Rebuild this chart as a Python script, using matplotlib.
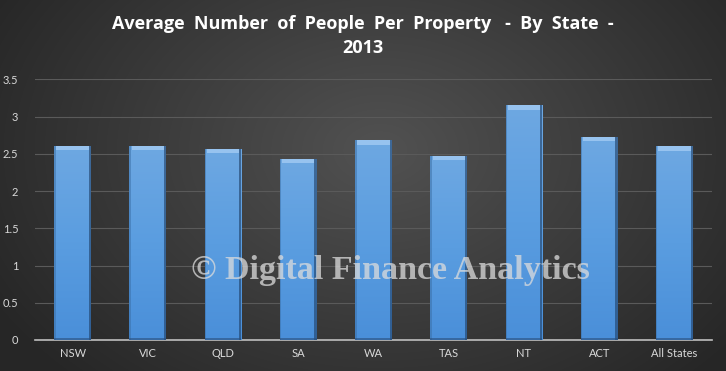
import numpy as np
import matplotlib
matplotlib.use("Agg")
import matplotlib.pyplot as plt

states = ["NSW", "VIC", "QLD", "SA", "WA", "TAS", "NT", "ACT", "All States"]
people = [2.61, 2.61, 2.57, 2.43, 2.68, 2.47, 3.15, 2.73, 2.60]
yticks = [0, 0.5, 1, 1.5, 2, 2.5, 3, 3.5]
ytick_labels = ["0", "0.5", "1", "1.5", "2", "2.5", "3", "3.5"]
title = "Average  Number  of  People  Per  Property   -  By  State  -\n2013"

fig = plt.figure(figsize=(7.26, 3.71), dpi=100)

# radial dark background
bg = fig.add_axes([0, 0, 1, 1], zorder=-10)
yy, xx = np.mgrid[0:371, 0:726]
r = np.sqrt(((xx - 380) / 420.0) ** 2 + ((yy - 150) / 300.0) ** 2)
shade = np.clip(0.32 - 0.16 * r, 0.15, 0.32)
bg.imshow(np.dstack([shade] * 3), aspect="auto", extent=[0, 1, 0, 1])
bg.axis("off")

ax = fig.add_axes([35 / 726, 31 / 371, 677 / 726, (340 - 79.3) / 371])
ax.set_facecolor("none")
x = np.arange(len(states))
ax.set_xlim(-0.5, len(states) - 0.5)
ax.set_ylim(0, 3.5)

bars = ax.bar(x, people, width=0.49, color="#5b9bd5", edgecolor="none", zorder=2)

# vertical gradient inside each bar
grad = np.linspace(0, 1, 256).reshape(-1, 1)
cmap = matplotlib.colors.LinearSegmentedColormap.from_list(
    "b", ["#4a8fd9", "#5a9de0", "#6ea8e2"])
for b, v in zip(bars, people):
    x0 = b.get_x()
    w = b.get_width()
    im = ax.imshow(grad, cmap=cmap, aspect="auto", origin="lower",
                   extent=[x0, x0 + w, 0, v], zorder=3)
    im.set_clip_path(b)
    # bevel: light top, dark right side
    ax.fill_between([x0 + 0.03, x0 + w - 0.03], v - 0.06, v, color="#a9d0f5",
                    alpha=0.7, zorder=4, linewidth=0)
    ax.fill_between([x0 + w - 0.03, x0 + w], 0, v, color="#1f3f66",
                    alpha=0.6, zorder=4, linewidth=0)
    ax.fill_between([x0, x0 + 0.02], 0, v, color="#3a6ea5",
                    alpha=0.5, zorder=4, linewidth=0)
    ax.fill_between([x0, x0 + w], 0, 0.03, color="#2a4f7c",
                    alpha=0.6, zorder=4, linewidth=0)

ax.set_yticks(yticks)
ax.set_yticklabels(ytick_labels, family="Lato")
ax.set_xticks(x)
ax.set_xticklabels(states, family="Lato")
ax.tick_params(axis="both", length=0, colors="#d9d9d9", labelsize=8)
ax.tick_params(axis="y", pad=12)
ax.tick_params(axis="x", pad=6)
ax.grid(axis="y", color="#5a5a5a", linewidth=0.8, zorder=0)
ax.set_axisbelow(True)
for s in ["top", "right", "left"]:
    ax.spines[s].set_visible(False)
ax.spines["bottom"].set_color("#bfbfbf")
ax.spines["bottom"].set_linewidth(1.2)

fig.text(0.5, 1 - 36 / 371, title,
         ha="center", va="center", color="white", fontsize=13,
         fontweight="bold", family="Open Sans", linespacing=1.45)

fig.text(390 / 726, 1 - 270 / 371, "© Digital Finance Analytics", ha="center", va="center",
         color="#dcdcdc", alpha=0.75, fontsize=24.5, fontweight="bold",
         family="Liberation Serif", zorder=20)

fig.savefig("out.png", dpi=100)
